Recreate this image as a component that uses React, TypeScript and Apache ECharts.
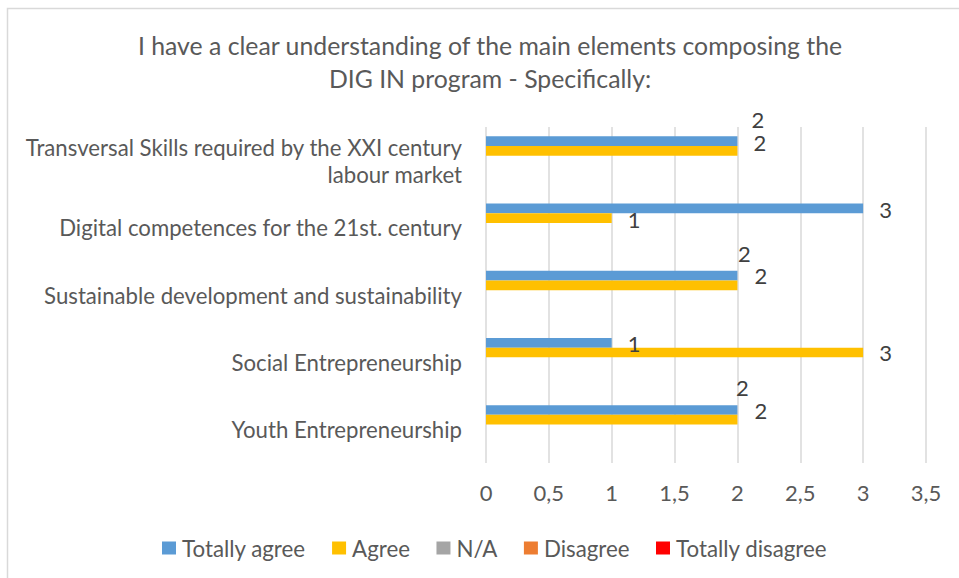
import React, { useEffect, useRef } from "react";
import * as echarts from "echarts";

const titleLines = [
  "I have a clear understanding of the main elements composing the",
  "DIG IN program - Specifically:",
];
const categories = [
  "Transversal Skills required by the XXI century\nlabour market",
  "Digital competences for the 21st. century",
  "Sustainable development and sustainability",
  "Social Entrepreneurship",
  "Youth Entrepreneurship",
];
const seriesNames = ["Totally agree", "Agree", "N/A", "Disagree", "Totally disagree"];
const totallyAgree = [2, 3, 2, 1, 2];
const agree = [2, 1, 2, 3, 2];
const notApplicable: (number | null)[] = [null, null, null, null, null];
const disagree: (number | null)[] = [null, null, null, null, null];
const totallyDisagree: (number | null)[] = [null, null, null, null, null];
const axisMin = 0;
const axisMax = 3.5;
const axisStep = 0.5;

const colors = ["#5B9BD5", "#FFC000", "#A5A5A5", "#ED7D31", "#FF0000"];
// manual label displacement (as moved in the original)
const labelShift: Record<string, number[][]> = {
  "Totally agree": [[-2, -22], [0, 1], [-15.5, -22.5], [0, 0.5], [-17.5, -22.5]],
  Agree: [[0, -8.8], [0, 1.5], [1, -9.5], [0, 0.5], [1, -9]],
};

const FONT = "Lato";

export default function App() {
  const ref = useRef<HTMLDivElement>(null);
  useEffect(() => {
    if (!ref.current) return;
    const chart = echarts.init(ref.current, undefined, { renderer: "svg" });
    const allValues = [totallyAgree, agree, notApplicable, disagree, totallyDisagree];
    const series = seriesNames.map((name, si) => ({
      name,
      type: "bar",
      barGap: "0%",
      barCategoryGap: "27.8%",
      itemStyle: { color: colors[si] },
      data: allValues[si].map((v, i) => {
        const shift = labelShift[name];
        return shift
          ? { value: v, label: { offset: shift[i] } }
          : { value: v };
      }),
      label: {
        show: !!labelShift[name],
        position: "right",
        distance: 16,
        color: "#404040",
        fontFamily: FONT,
        fontSize: 22,
        lineHeight: 20,
      },
    }));
    chart.setOption({
      animation: false,
      backgroundColor: "#ffffff",
      title: {
        text: titleLines.join("\n"),
        left: 490,
        top: 29,
        padding: 0,
        textAlign: "center",
        textStyle: {
          fontFamily: FONT,
          fontSize: 24.8,
          lineHeight: 33,
          fontWeight: "normal",
          color: "#595959",
        },
      },
      legend: {
        data: seriesNames,
        left: 162,
        top: 537,
        padding: 0,
        icon: "rect",
        itemWidth: 14,
        itemHeight: 13,
        itemGap: 26.5,
        textStyle: {
          fontFamily: FONT,
          fontSize: 22.3,
          lineHeight: 22,
          color: "#595959",
          padding: [0, 0, 0, 1],
        },
      },
      grid: { left: 486, right: 33, top: 127, bottom: 115, containLabel: false },
      xAxis: {
        type: "value",
        min: axisMin,
        max: axisMax,
        interval: axisStep,
        axisLine: { show: false },
        axisTick: { show: false },
        splitLine: { lineStyle: { color: "#d9d9d9", width: 1.5 } },
        axisLabel: {
          margin: 18,
          fontFamily: FONT,
          fontSize: 22,
          lineHeight: 22,
          color: "#595959",
          formatter: (v: number) => String(v).replace(".", ","),
        },
      },
      yAxis: {
        type: "category",
        inverse: true,
        data: categories,
        axisLine: { show: false },
        axisTick: { show: false },
        axisLabel: {
          margin: 24,
          fontFamily: FONT,
          fontSize: 22.2,
          lineHeight: 27,
          color: "#595959",
          align: "right",
        },
      },
      graphic: [
        {
          type: "rect",
          shape: { x: 7.5, y: 8.5, width: 1000, height: 1000 },
          style: { fill: "none", stroke: "#d9d9d9", lineWidth: 1.5 },
          silent: true,
          z: -1,
        },
      ],
      series,
    });
    return () => chart.dispose();
  }, []);
  return (
    <div
      ref={ref}
      style={{ position: "absolute", left: 0, top: 0, width: 959, height: 578, background: "#fff" }}
    />
  );
}
